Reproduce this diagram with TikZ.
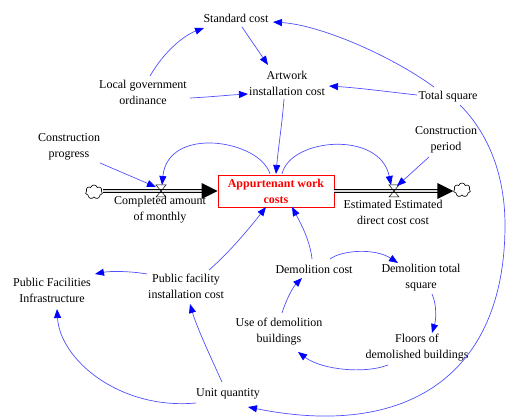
\documentclass[tikz,border=0pt]{standalone}
\usepackage{fontspec}
\setmainfont{Liberation Serif}
\usetikzlibrary{arrows.meta,shapes.symbols}
\definecolor{linkblue}{RGB}{80,80,255}
\definecolor{headblue}{RGB}{0,0,255}
\tikzset{
  var/.style={align=center,inner sep=1pt,font=\fontsize{12}{16}\selectfont},
  link/.style={draw=linkblue,line width=0.7pt,
    -{Triangle[length=9pt,width=7pt,color=headblue]}},
  pipe/.style={draw=black,line width=0.6pt,double=gray!30,double distance=2.4pt},
  stockbox/.style={draw=red,line width=0.7pt,minimum width=116pt,minimum height=32pt,
    inner sep=1pt,align=center,text=red,font=\fontsize{12}{16}\selectfont\bfseries},
  sink/.style={cloud,draw,line width=0.6pt,cloud puffs=7,aspect=1.3,minimum width=17pt,minimum height=14pt,inner sep=0pt}
}
\begin{document}
\begin{tikzpicture}[x=1pt,y=-1pt]
\useasboundingbox (0,0) rectangle (507,420);

% variables
\node[var] (sc)  at (236,18)   {Standard cost};
\node[var] (lg)  at (143,92.5) {Local government\\ordinance};
\node[var] (aw)  at (287,83)   {Artwork\\installation cost};
\node[var] (ts)  at (448,97)   {Total square};
\node[var] (cp)  at (69,146.5) {Construction\\progress};
\node[var] (cd)  at (446,140)  {Construction\\period};
\node[var] (pfi) at (52,290)   {Public Facilities\\Infrastructure};
\node[var] (pfc) at (186,286)  {Public facility\\installation cost};
\node[var] (dc)  at (314,269)  {Demolition cost};
\node[var] (dts) at (421,278)  {Demolition total\\square};
\node[var] (ud)  at (279,332)  {Use of demolition\\buildings};
\node[var] (fd)  at (417,348)  {Floors of\\demolished buildings};
\node[var] (uq)  at (228,394)  {Unit quantity};

% stock with its inflow and outflow
\node[stockbox] (stock) at (276,191) {Appurtenant work\\costs};
\node[sink] (cl) at (94,192) {};
\node[sink] (cr) at (462,190) {};
\coordinate (vl) at (161,191);
\coordinate (vr) at (394,191);

\draw[pipe] (cl.east |- stock.west) -- ([xshift=-15pt]stock.west);
\fill (stock.west) -- ++(-16,-8) -- ++(0,16) -- cycle;
\draw[pipe] (stock.east) -- ([xshift=-15pt]cr.west |- stock.east);
\fill (cr.west |- stock.east) -- ++(-16,-8) -- ++(0,16) -- cycle;

\draw[line width=0.5pt] (vl) ++(-5,-6) -- ++(10,0) -- ++(-10,12) -- ++(10,0) -- cycle;
\draw[line width=0.5pt] (vr) ++(-5,-6) -- ++(10,0) -- ++(-10,12) -- ++(10,0) -- cycle;

\node[var] (cam) at (160,210) {Completed amount\\of monthly};
\node[var] (eed) at (393,212) {Estimated Estimated\\direct cost cost};

% causal links
\draw[link] ([shift={(7,-16.5)}]lg.center) .. controls (165,50) and (185,35) .. ([shift={(-32,10)}]sc.center);
\draw[link] ([shift={(6,9)}]sc.center) -- ([shift={(-19,-18)}]aw.center);
\draw[link] ([shift={(-14,-10)}]ts.center) .. controls (390,55) and (320,25) .. ([shift={(37,4)}]sc.center);
\draw[link] ([shift={(47,5.5)}]lg.center) .. controls (210,97) and (230,95) .. ([shift={(-39,11)}]aw.center);
\draw[link] ([shift={(-31,-2)}]ts.center) .. controls (390,92) and (360,88) .. ([shift={(42,3)}]aw.center);
\draw[link] ([shift={(-3,16)}]aw.center) .. controls (282,125) and (278,150) .. ([shift={(0,-17)}]stock.center);
\draw[link] ([shift={(-6,-17)}]stock.center) .. controls (260,140) and (168,125) .. ([shift={(1,-6)}]vl);
\draw[link] ([shift={(6,-17)}]stock.center) .. controls (290,138) and (380,130) .. ([shift={(-3,-6)}]vr);
\draw[link] ([shift={(31,16.5)}]cp.center) -- ([shift={(-5,-4)}]vl);
\draw[link] ([shift={(-17,17)}]cd.center) -- ([shift={(3,-5)}]vr);
\draw[link] ([shift={(23,-16)}]pfc.center) .. controls (230,252) and (252,225) .. ([shift={(-10,16)}]stock.center);
\draw[link] ([shift={(-2,-10)}]dc.center) .. controls (310,240) and (300,222) .. ([shift={(16,16)}]stock.center);
\draw[link] ([shift={(16,-10)}]dc.center) .. controls (342,250) and (375,248) .. ([shift={(-23,-15)}]dts.center);
\draw[link] ([shift={(11,16)}]dts.center) .. controls (437,305) and (436,320) .. ([shift={(15,-15)}]fd.center);
\draw[link] ([shift={(-29,17)}]fd.center) .. controls (365,374) and (322,370) .. ([shift={(19,20)}]ud.center);
\draw[link] ([shift={(3,-19)}]ud.center) .. controls (286,300) and (293,287) .. ([shift={(-12,9)}]dc.center);
\draw[link] ([shift={(-39,-12)}]pfc.center) .. controls (130,271) and (110,271) .. ([shift={(43,-16)}]pfi.center);
\draw[link] ([shift={(-6,-12)}]uq.center) .. controls (212,360) and (197,328) .. ([shift={(4,18)}]pfc.center);
\draw[link] ([shift={(-32,9)}]uq.center) .. controls (120,410) and (60,360) .. ([shift={(5,19)}]pfi.center);
\draw[link] ([shift={(12,8)}]ts.center) .. controls (485,130) and (505,170) .. (505,225)
  .. controls (505,375) and (407,439) .. ([shift={(20,13)}]uq.center);
\end{tikzpicture}
\end{document}
